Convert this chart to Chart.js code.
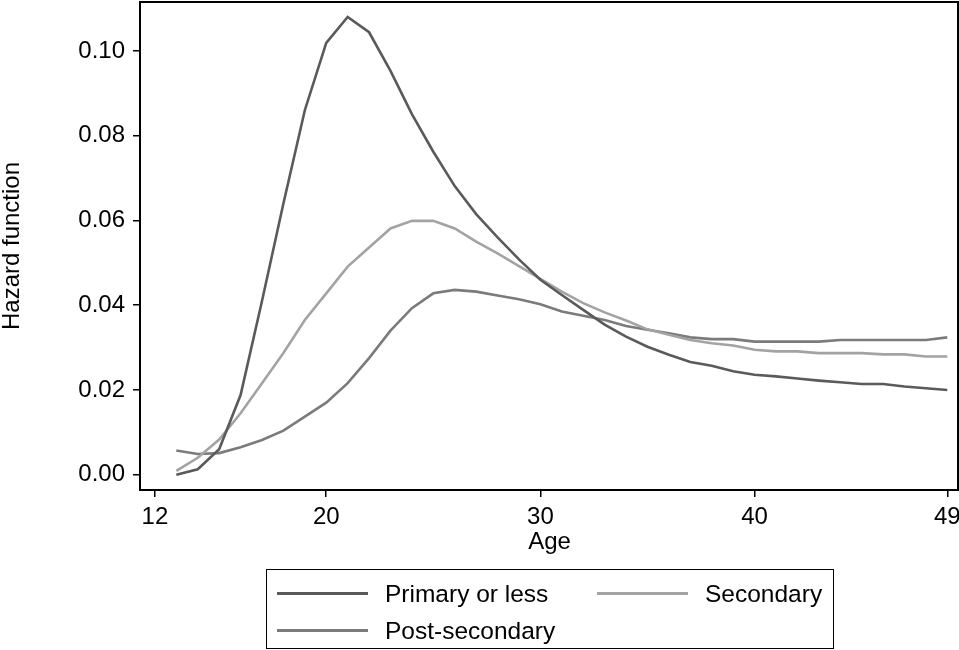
<!DOCTYPE html>
<html>
<head>
<meta charset="utf-8">
<script src="https://cdn.jsdelivr.net/npm/chart.js@4/dist/chart.umd.min.js"></script>
<style>
  html, body { margin: 0; padding: 0; background: #fff; }
  #wrap { position: relative; width: 959px; height: 650px; font-family: "Liberation Sans", Arial, sans-serif; }
  #legend { position: absolute; left: 266px; top: 569px; width: 566px; height: 78px; border: 1.5px solid #000; box-sizing: content-box; }
  .item { position: absolute; height: 37px; line-height: 37px; font-size: 24.5px; color: #000; white-space: nowrap; }
  .item .swatch { position: absolute; left: 0; top: 17px; width: 91px; height: 3px; }
  .item .txt { position: absolute; left: 108px; top: 0; }
</style>
</head>
<body>
<div id="wrap">
  <canvas id="chart" width="959" height="650"></canvas>
  <div id="legend"></div>
</div>
<script>
(function () {
  // ages 13..49
  const ages = [13, 14, 15, 16, 17, 18, 19, 20, 21, 22, 23, 24, 25, 26, 27, 28, 29, 30, 31,
    32, 33, 34, 35, 36, 37, 38, 39, 40, 41, 42, 43, 44, 45, 46, 47, 48, 49];

  const primary = [0.0000, 0.0013, 0.0060, 0.0188, 0.0410, 0.0640, 0.0860, 0.1019, 0.1080, 0.1044,
    0.0953, 0.0851, 0.0762, 0.0681, 0.0615, 0.0560, 0.0508, 0.0460, 0.0424, 0.0389,
    0.0354, 0.0326, 0.0302, 0.0283, 0.0266, 0.0257, 0.0244, 0.0236, 0.0232, 0.0227,
    0.0222, 0.0218, 0.0214, 0.0214, 0.0208, 0.0204, 0.0200];

  const secondary = [0.0009, 0.0040, 0.0083, 0.0145, 0.0216, 0.0287, 0.0365, 0.0428, 0.0491, 0.0536,
    0.0581, 0.0599, 0.0599, 0.0581, 0.0550, 0.0522, 0.0492, 0.0462, 0.0432, 0.0405,
    0.0383, 0.0364, 0.0343, 0.0330, 0.0318, 0.0310, 0.0305, 0.0295, 0.0291, 0.0291,
    0.0287, 0.0287, 0.0287, 0.0284, 0.0284, 0.0279, 0.0279];

  const postSecondary = [0.0057, 0.0049, 0.0051, 0.0065, 0.0082, 0.0104, 0.0137, 0.0170, 0.0216, 0.0275,
    0.0340, 0.0393, 0.0428, 0.0436, 0.0432, 0.0423, 0.0414, 0.0402, 0.0385, 0.0375,
    0.0365, 0.0351, 0.0342, 0.0334, 0.0324, 0.0320, 0.0320, 0.0314, 0.0314, 0.0314,
    0.0314, 0.0318, 0.0318, 0.0318, 0.0318, 0.0318, 0.0324];

  const xTicks = [12, 20, 30, 40, 49];
  const yTicks = [0, 0.02, 0.04, 0.06, 0.08, 0.10];

  const seriesNames = ['Primary or less', 'Secondary', 'Post-secondary'];
  const seriesColors = ['#5a5a5a', '#a3a3a3', '#7b7b7b'];
  const seriesValues = [primary, secondary, postSecondary];

  const FONT = { family: '"Liberation Sans", Arial, sans-serif', size: 24 };

  function toPoints(vals) {
    return vals.map(function (v, i) { return { x: ages[i], y: v }; });
  }

  // frame round the plot area
  const framePlugin = {
    id: 'frame',
    afterDraw: function (chart) {
      const a = chart.chartArea;
      const ctx = chart.ctx;
      ctx.save();
      ctx.strokeStyle = '#000';
      ctx.lineWidth = 2;
      ctx.strokeRect(a.left - 1, a.top - 1, a.right - a.left + 1, a.bottom - a.top + 2);
      ctx.restore();
    }
  };

  const datasets = seriesValues.map(function (vals, i) {
    return {
      label: seriesNames[i],
      data: toPoints(vals),
      borderColor: seriesColors[i],
      backgroundColor: seriesColors[i],
      borderWidth: 2.6,
      pointRadius: 0,
      tension: 0,
      fill: false
    };
  });

  new Chart(document.getElementById('chart'), {
    type: 'line',
    data: { datasets: datasets },
    plugins: [framePlugin],
    options: {
      responsive: false,
      animation: false,
      layout: { padding: { left: 0, top: 3, right: 1, bottom: 93 } },
      plugins: {
        legend: { display: false },
        tooltip: { enabled: false }
      },
      scales: {
        x: {
          type: 'linear',
          min: 11.35,
          max: 49.5,
          afterBuildTicks: function (scale) {
            scale.ticks = xTicks.map(function (v) { return { value: v }; });
          },
          afterFit: function (scale) {
            scale.height = 68;
            scale.paddingLeft = 0;
            scale.paddingRight = 0;
          },
          border: { display: false },
          grid: { drawOnChartArea: false, drawTicks: true, tickLength: 8, color: '#000', lineWidth: 1.5 },
          ticks: { color: '#000', font: FONT, padding: 6, maxRotation: 0, autoSkip: false },
          title: { display: true, text: 'Age', color: '#000', font: FONT, padding: { top: 0, bottom: 0 } }
        },
        y: {
          min: -0.00337,
          max: 0.1113,
          afterBuildTicks: function (scale) {
            scale.ticks = yTicks.map(function (v) { return { value: v }; });
          },
          afterFit: function (scale) {
            scale.width = 141;
            scale.paddingTop = 0;
            scale.paddingBottom = 0;
          },
          border: { display: false },
          grid: { drawOnChartArea: false, drawTicks: true, tickLength: 8, color: '#000', lineWidth: 1.5 },
          ticks: {
            color: '#000', font: FONT, padding: 8,
            callback: function (v) { return Number(v).toFixed(2); }
          },
          title: { display: true, text: 'Hazard function', color: '#000', font: Object.assign({}, FONT, { lineHeight: 1.05 }), padding: { top: 0, bottom: 0 } }
        }
      }
    }
  });

  // legend: two columns, filled row by row
  const legend = document.getElementById('legend');
  seriesNames.forEach(function (name, i) {
    const col = i % 2;
    const row = Math.floor(i / 2);
    const item = document.createElement('div');
    item.className = 'item';
    item.style.left = (10 + col * 320) + 'px';
    item.style.top = (5 + row * 37) + 'px';
    const sw = document.createElement('span');
    sw.className = 'swatch';
    sw.style.background = seriesColors[i];
    const tx = document.createElement('span');
    tx.className = 'txt';
    tx.textContent = name;
    item.appendChild(sw);
    item.appendChild(tx);
    legend.appendChild(item);
  });
})();
</script>
</body>
</html>
